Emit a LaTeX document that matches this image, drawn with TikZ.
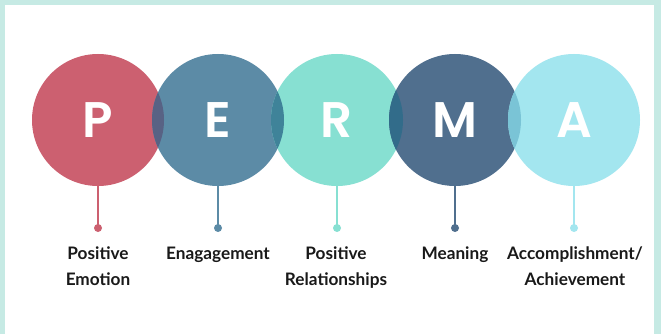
\documentclass[tikz,border=0pt]{standalone}
\usepackage{fontspec}
\setmainfont{Lato}
\newfontfamily\bigletter{Poppins SemiBold}
\definecolor{cP}{RGB}{204,96,112}
\definecolor{cE}{RGB}{92,139,166}
\definecolor{cR}{RGB}{135,224,210}
\definecolor{cM}{RGB}{80,111,142}
\definecolor{cA}{RGB}{163,230,239}
\definecolor{lPE}{RGB}{88,98,132}
\definecolor{lER}{RGB}{63,131,153}
\definecolor{lRM}{RGB}{50,108,138}
\definecolor{lMA}{RGB}{122,196,214}
\definecolor{framecol}{RGB}{198,234,228}
\definecolor{txt}{RGB}{25,25,25}
\begin{document}
\begin{tikzpicture}[x=1pt,y=-1pt,
  bub/.style={circle, minimum size=132pt, inner sep=0pt, text=white,
    font=\bigletter\fontsize{50}{50}\selectfont},
  dotnode/.style={circle, minimum size=8pt, inner sep=0pt},
  stem/.style={line width=1.5pt},
  lbl/.style={anchor=base, align=center, inner sep=0pt, text=txt,
    font=\bfseries\fontsize{17.2}{26}\selectfont}]
\fill[framecol] (0,0) rectangle (661,334);
\fill[white] (5,5) rectangle (654,334);
\useasboundingbox (0,0) rectangle (661,334);
% circles
\node[bub, fill=cP] (P) at (98,120) {P};
\node[bub, fill=cE] (E) at (218,120) {E};
\node[bub, fill=cR] (R) at (337,120) {R};
\node[bub, fill=cM] (M) at (455,120) {M};
\node[bub, fill=cA] (A) at (574,120) {A};
% overlaps
\begin{scope}\clip (P.center) circle[radius=66pt]; \fill[lPE] (E.center) circle[radius=66pt];\end{scope}
\begin{scope}\clip (E.center) circle[radius=66pt]; \fill[lER] (R.center) circle[radius=66pt];\end{scope}
\begin{scope}\clip (R.center) circle[radius=66pt]; \fill[lRM] (M.center) circle[radius=66pt];\end{scope}
\begin{scope}\clip (M.center) circle[radius=66pt]; \fill[lMA] (A.center) circle[radius=66pt];\end{scope}
% dots
\node[dotnode, fill=cP] (dP) at (98,228) {};
\node[dotnode, fill=cE] (dE) at (218,228) {};
\node[dotnode, fill=cR] (dR) at (337,228) {};
\node[dotnode, fill=cM] (dM) at (455,228) {};
\node[dotnode, fill=cA] (dA) at (574,228) {};
% stems
\draw[stem, cP] (P.south) -- (dP.center);
\draw[stem, cE] (E.south) -- (dE.center);
\draw[stem, cR] (R.south) -- (dR.center);
\draw[stem, cM] (M.south) -- (dM.center);
\draw[stem, cA] (A.south) -- (dA.center);
% labels (base anchor = baseline of last line)
\node[lbl] (lP) at (98,285) {Positive\\Emotion};
\node[lbl] (lE) at (218,259) {Enagagement};
\node[lbl] (lR) at (336,285) {Positive\\Relationships};
\node[lbl] (lM) at (455,259) {Meaning};
\node[lbl] (lA) at (575,285) {Accomplishment/\\Achievement};
\end{tikzpicture}
\end{document}
